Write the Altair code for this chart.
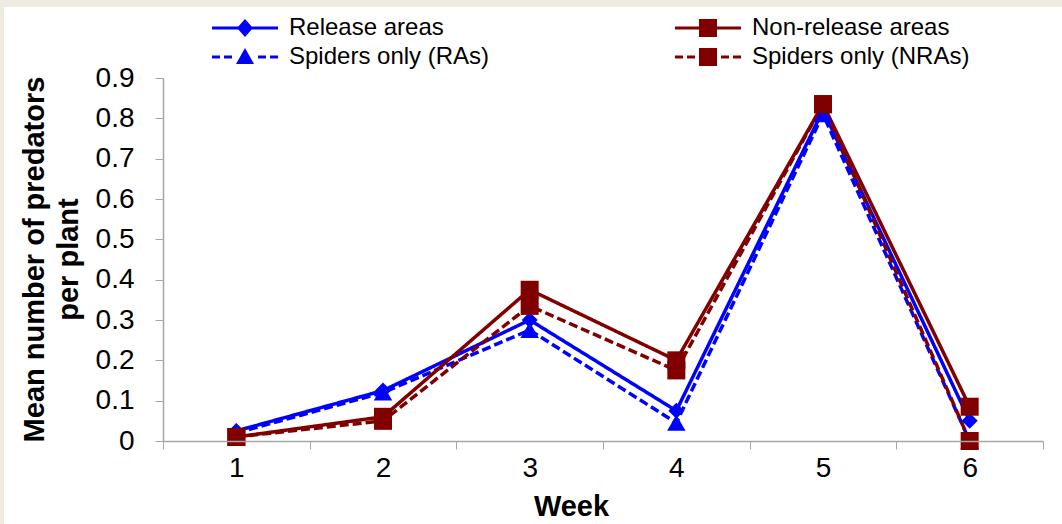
import altair as alt
import pandas as pd

weeks = [1, 2, 3, 4, 5, 6]
release_areas = [0.025, 0.125, 0.30, 0.075, 0.82, 0.05]
spiders_ras = [0.02, 0.12, 0.275, 0.045, 0.81, 0.0]
non_release_areas = [0.01, 0.06, 0.375, 0.20, 0.835, 0.085]
spiders_nras = [0.01, 0.05, 0.335, 0.175, 0.835, 0.0]

# legend order (filled column by column)
series_names = ["Release areas", "Spiders only (RAs)", "Non-release areas", "Spiders only (NRAs)"]
series_colors = ["#0000FF", "#0000FF", "#800000", "#800000"]
sorted_names = sorted(series_names)
style_color = {"Release areas": "#0000FF", "Non-release areas": "#800000",
               "Spiders only (RAs)": "#0000FF", "Spiders only (NRAs)": "#800000"}
style_dash = {"Release areas": [1, 0], "Non-release areas": [1, 0],
              "Spiders only (RAs)": [9, 4], "Spiders only (NRAs)": [9, 4]}

rows = []
for name, vals in [("Release areas", release_areas), ("Spiders only (RAs)", spiders_ras),
                   ("Non-release areas", non_release_areas), ("Spiders only (NRAs)", spiders_nras)]:
    for w, v in zip(weeks, vals):
        rows.append({"week": w, "value": v, "series": name})
df = pd.DataFrame(rows)

FONT = "Liberation Sans"
U = 5.0  # px per path unit for legend symbolSize 100


def rect(x0, x1, y0, y1):
    f = lambda px: f"{(px - 5) / U:.3f}"
    g = lambda py: f"{py / U:.3f}"
    return f"M{f(x0)} {g(y0)}L{f(x1)} {g(y0)}L{f(x1)} {g(y1)}L{f(x0)} {g(y1)}Z"


def poly(points):
    return "M" + "L".join(f"{(px - 5) / U:.3f} {py / U:.3f}" for px, py in points) + "Z"


solid = rect(0, 66, -1.5, 1.5)
dashed = "".join(rect(a, b, -1.5, 1.5) for a, b in [(0, 8), (12, 20), (46, 54), (58, 66)])
c = 33
diamond = poly([(c, -9), (c + 8, 0), (c, 9), (c - 8, 0)])
triangle = poly([(c, -9), (c + 9, 7), (c - 9, 7)])
square = rect(c - 9, c + 9, -9, 9)
legend_shapes = [solid + diamond, dashed + triangle, solid + square, dashed + square]

color_scale = alt.Scale(range=[style_color[n] for n in sorted_names])
dash_scale = alt.Scale(range=[style_dash[n] for n in sorted_names])

base = alt.Chart(df)
x_enc = alt.X("week:O", scale=alt.Scale(paddingInner=0, paddingOuter=0),
              axis=alt.Axis(title="Week", labelAngle=0, tickBand="extent", grid=False, zindex=1,
                            labelFont=FONT, labelFontSize=28, labelColor="black", labelPadding=5,
                            tickSize=8, tickColor="#A6A6A6", domainColor="#A6A6A6", domainWidth=1.5,
                            titleFont=FONT, titleFontSize=29, titleFontWeight="bold", titleColor="black",
                            titleX=408, titleY=65, titleBaseline="middle", titleAlign="center"))
y_enc = alt.Y("value:Q", scale=alt.Scale(domain=[0, 0.9], nice=False),
              axis=alt.Axis(title=["Mean number of predators", "per plant"], zindex=1,
                            values=[0, 0.1, 0.2, 0.3, 0.4, 0.5, 0.6, 0.7, 0.8, 0.9], format="~g",
                            grid=False, labelFont=FONT, labelFontSize=28, labelColor="black",
                            labelPadding=21, tickSize=8, tickColor="#A6A6A6", domainColor="#A6A6A6",
                            domainWidth=1.5, titleFont=FONT, titleFontSize=29, titleFontWeight="bold",
                            titleColor="black", titleAngle=270, titleX=-143, titleY=181,
                            titleBaseline="top", titleAlign="center", titleLineHeight=34))

panel = alt.Chart(alt.Data(values=[{}])).mark_rect(color="white").encode(
    x=alt.value(-159), x2=alt.value(899), y=alt.value(-71), y2=alt.value(446))

lines = base.mark_line(strokeWidth=3.5).encode(
    x=x_enc, y=y_enc,
    color=alt.Color("series:N", scale=color_scale, legend=None),
    strokeDash=alt.StrokeDash("series:N", scale=dash_scale, legend=None),
    detail="series:N")


def markers(names, shape, size):
    return base.transform_filter(alt.FieldOneOfPredicate(field="series", oneOf=names)).mark_point(
        filled=True, shape=shape, size=size, opacity=1).encode(
        x="week:O", y="value:Q",
        color=alt.Color("series:N", scale=color_scale, legend=None))


m_diamond = markers(["Release areas"], "diamond", 256)
m_triangle = markers(["Spiders only (RAs)"], "triangle-up", 340)
m_square = markers(["Non-release areas", "Spiders only (NRAs)"], "square", 324)

legend_layer = base.transform_filter("datum.value < -1").mark_point(filled=True, opacity=1).encode(
    x="week:O", y="value:Q",
    fill=alt.Fill("series:N", scale=alt.Scale(domain=series_names, range=series_colors), legend=alt.Legend(
        title=None, orient="none", legendX=42, legendY=-62, columns=2, zindex=2,
        symbolSize=100, symbolStrokeWidth=0, symbolOpacity=1, labelOffset=60, padding=0,
        columnPadding=178, rowPadding=5, labelFont=FONT, labelFontSize=24,
        labelColor="black", labelLimit=400)),
    shape=alt.Shape("series:N", scale=alt.Scale(domain=series_names, range=legend_shapes)))

chart = alt.layer(panel, lines, m_diamond, m_triangle, m_square, legend_layer).properties(
    width=880, height=363,
    autosize=alt.AutoSizeParams(type="none"),
    padding={"left": 163, "top": 78, "right": 19, "bottom": 83},
    background="#EEECE1",
).configure_view(stroke=None)

chart.save("out.html", embed_options={"renderer": "svg", "actions": False})
